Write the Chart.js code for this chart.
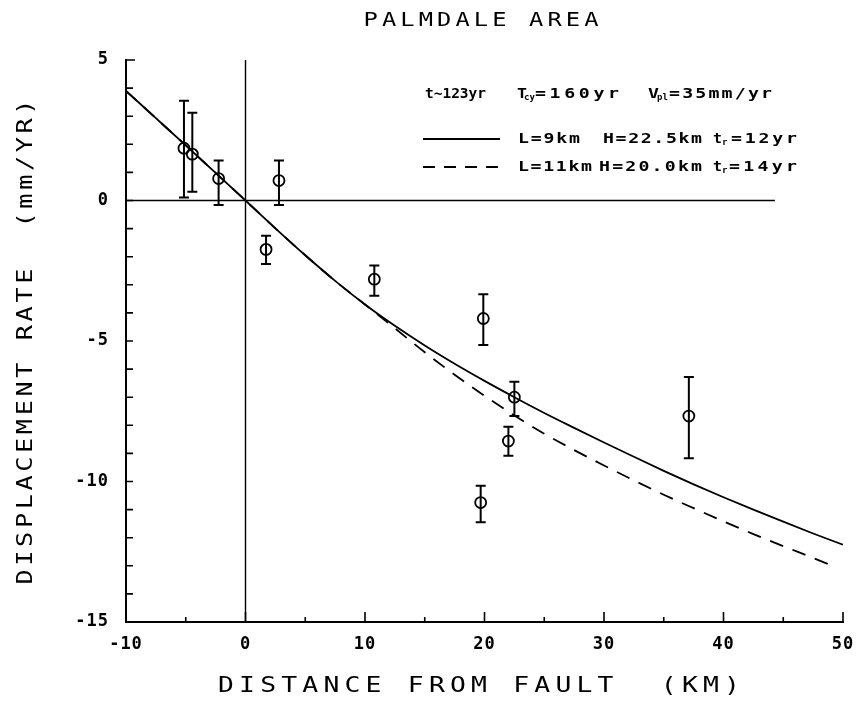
<!DOCTYPE html>
<html>
<head>
<meta charset="utf-8">
<script src="https://cdn.jsdelivr.net/npm/chart.js@4.4.1/dist/chart.umd.min.js"></script>
<style>
  html, body { margin: 0; padding: 0; background: #fff; }
</style>
</head>
<body>
<canvas id="palmdale" width="856" height="708"></canvas>
<script>
// observed displacement rates (mm/yr) vs distance from fault (km)
var obsX    = [-5.15, -4.45, -2.25, 1.72, 2.8, 10.78, 19.9, 22.5, 22.0, 19.68, 37.1];
var obsY    = [1.86, 1.65, 0.78, -1.74, 0.71, -2.8, -4.2, -7.0, -8.56, -10.75, -7.67];
var errLow  = [0.11, 0.31, -0.16, -2.26, -0.16, -3.39, -5.14, -7.67, -9.08, -11.45, -9.17];
var errHigh = [3.55, 3.12, 1.42, -1.25, 1.42, -2.31, -3.34, -6.45, -8.05, -10.15, -6.28];

// model curves
var solidX  = [-10, -7.5, -5, -2.5, 0, 2.5, 5, 7.5, 10, 12.5, 15, 17.5, 20, 22.5, 25, 27.5, 30, 32.5, 35, 37.5, 40, 42.5, 45, 47.5, 50];
var solidY  = [3.9, 2.93, 1.96, 0.98, 0, -0.99, -1.95, -2.86, -3.7, -4.46, -5.16, -5.81, -6.42, -7.0, -7.56, -8.09, -8.61, -9.12, -9.62, -10.1, -10.56, -11.0, -11.43, -11.85, -12.25];
var dashedX = [-10, -7.5, -5, -2.5, 0, 2.5, 5, 7.5, 10, 12.5, 15, 17.5, 20, 22.5, 25, 27.5, 30, 32.5, 35, 37.5, 40, 42.5, 45, 47.5, 49.4];
var dashedY = [3.9, 2.93, 1.96, 0.98, 0, -0.99, -1.95, -2.86, -3.7, -4.55, -5.4, -6.2, -6.95, -7.65, -8.3, -8.88, -9.43, -9.96, -10.47, -10.95, -11.42, -11.87, -12.3, -12.72, -13.05];

// reference lines
var zeroHX = [-10, 44.3];
var zeroVY = [5, -15];

var xTicks = [-10, 0, 10, 20, 30, 40, 50];
var yTicks = [5, 0, -5, -10, -15];

var MONO = '"DejaVu Sans Mono", monospace';

function pts(xs, ys) {
    return xs.map(function (x, i) { return { x: x, y: ys[i] }; });
}

// plotter-like lettering: glyphs widened by sx, spacing chosen so the text spans w
function wideText(ctx, t, x, y, w, font, sx, align) {
    ctx.save();
    ctx.font = font;
    ctx.letterSpacing = '0px';
    var natural = ctx.measureText(t).width;
    var ratio = w / natural;
    if (sx > ratio) sx = Math.max(1, ratio);
    var sp = t.length > 1 ? Math.max(0, (w / sx - natural) / (t.length - 1)) : 0;
    ctx.letterSpacing = sp + 'px';
    ctx.textAlign = 'left';
    var left = align === 'center' ? x - w / 2 : x;
    ctx.translate(left, y);
    ctx.scale(sx, 1);
    ctx.fillText(t, 0, 0);
    ctx.restore();
}

// annotation piece running from x to x2
function fitText(ctx, t, x, x2, y) {
    wideText(ctx, t, x, y, x2 - x, 'bold 14px ' + MONO, 1.3, 'left');
}

function sub(ctx, t, x, y) {
    ctx.save();
    ctx.font = 'bold 9px ' + MONO;
    ctx.letterSpacing = '0px';
    ctx.fillText(t, x, y + 4);
    ctx.restore();
}

var decorations = {
    id: 'decorations',
    beforeDraw: function (chart) {
        chart.ctx.letterSpacing = '1px';
    },
    afterDraw: function (chart) {
        var ctx = chart.ctx;
        var xs = chart.scales.x, ys = chart.scales.y;
        var area = chart.chartArea;
        ctx.save();
        ctx.strokeStyle = '#000';
        ctx.fillStyle = '#000';

        // inward tick marks
        ctx.lineWidth = 1.6;
        ctx.beginPath();
        for (var v = -10; v <= 50; v += 5) {
            var px = xs.getPixelForValue(v);
            var len = (v % 10 === 0) ? 10 : 5;
            ctx.moveTo(px, area.bottom);
            ctx.lineTo(px, area.bottom - len);
        }
        for (var w = -15; w <= 5; w += 1) {
            var py = ys.getPixelForValue(w);
            ctx.moveTo(area.left, py);
            ctx.lineTo(area.left + (w === 5 ? 9 : 7), py);
        }
        ctx.stroke();

        // error bars
        ctx.lineWidth = 2;
        ctx.beginPath();
        obsX.forEach(function (x, i) {
            var cx = xs.getPixelForValue(x);
            var lo = ys.getPixelForValue(errLow[i]);
            var hi = ys.getPixelForValue(errHigh[i]);
            ctx.moveTo(cx, lo); ctx.lineTo(cx, hi);
            ctx.moveTo(cx - 5, lo); ctx.lineTo(cx + 5, lo);
            ctx.moveTo(cx - 5, hi); ctx.lineTo(cx + 5, hi);
        });
        ctx.stroke();

        // parameter annotation
        ctx.textAlign = 'left';
        ctx.textBaseline = 'middle';
        fitText(ctx, 't~123yr', 425, 486, 94);
        fitText(ctx, 'T', 517, 527, 94);
        sub(ctx, 'cy', 524, 94);
        fitText(ctx, '=160yr', 535, 619, 94);
        fitText(ctx, 'V', 648, 659, 94);
        sub(ctx, 'pl', 657, 94);
        fitText(ctx, '=35mm/yr', 669, 772, 94);

        fitText(ctx, 'L=9km', 518, 580, 139);
        fitText(ctx, 'H=22.5km', 603, 702, 139);
        fitText(ctx, 't', 713, 722, 139);
        sub(ctx, 'r', 722, 139);
        fitText(ctx, '=12yr', 731, 797, 139);

        fitText(ctx, 'L=11km', 518, 592, 167);
        fitText(ctx, 'H=20.0km', 599, 702, 167);
        fitText(ctx, 't', 713, 722, 167);
        sub(ctx, 'r', 722, 167);
        fitText(ctx, '=14yr', 729, 797, 167);

        // legend samples
        ctx.lineWidth = 1.8;
        ctx.beginPath();
        ctx.moveTo(423, 139); ctx.lineTo(500, 139);
        ctx.stroke();
        ctx.setLineDash([12, 9]);
        ctx.beginPath();
        ctx.moveTo(423, 167); ctx.lineTo(500, 167);
        ctx.stroke();
        ctx.setLineDash([]);

        // titles
        wideText(ctx, 'PALMDALE AREA', 481, 21, 235, '19px ' + MONO, 1.25, 'center');
        wideText(ctx, 'DISTANCE FROM FAULT  (KM)', 479, 686, 522, '22px ' + MONO, 1.2, 'center');

        ctx.translate(27, 342);
        ctx.rotate(-Math.PI / 2);
        wideText(ctx, 'DISPLACEMENT RATE  (mm/YR)', 0, 0, 485, '21px ' + MONO, 1.2, 'center');
        ctx.restore();
    }
};

new Chart(document.getElementById('palmdale').getContext('2d'), {
    type: 'scatter',
    data: {
        datasets: [
            {
                data: pts(zeroHX, [0, 0]),
                showLine: true, borderColor: '#000', borderWidth: 1.6, pointRadius: 0
            },
            {
                data: pts([0, 0], zeroVY),
                showLine: true, borderColor: '#000', borderWidth: 1.4, pointRadius: 0
            },
            {
                data: pts(solidX, solidY),
                showLine: true, borderColor: '#000', borderWidth: 1.8, pointRadius: 0,
                cubicInterpolationMode: 'monotone'
            },
            {
                data: pts(dashedX, dashedY),
                showLine: true, borderColor: '#000', borderWidth: 1.8, pointRadius: 0,
                borderDash: [14, 10], cubicInterpolationMode: 'monotone'
            },
            {
                data: pts(obsX, obsY),
                showLine: false, pointRadius: 5.5, pointBorderWidth: 1.8,
                pointBorderColor: '#000', pointBackgroundColor: 'rgba(0,0,0,0)'
            }
        ]
    },
    options: {
        responsive: false,
        animation: false,
        devicePixelRatio: 1,
        layout: { padding: { left: 50, right: 13, top: 60, bottom: 26 } },
        plugins: {
            legend: { display: false },
            title: { display: false },
            tooltip: { enabled: false }
        },
        scales: {
            x: {
                type: 'linear', position: 'bottom', min: -10, max: 50,
                afterBuildTicks: function (s) { s.ticks = xTicks.map(function (v) { return { value: v }; }); },
                afterFit: function (s) { s.height = 60; s.paddingLeft = 0; s.paddingRight = 0; },
                grid: { display: false },
                border: { display: true, color: '#000', width: 2 },
                ticks: {
                    color: '#000', padding: 4, maxRotation: 0, autoSkip: false,
                    font: { family: MONO, size: 17, weight: 'bold' }
                }
            },
            y: {
                type: 'linear', position: 'left', min: -15, max: 5,
                afterBuildTicks: function (s) { s.ticks = yTicks.map(function (v) { return { value: v }; }); },
                afterFit: function (s) { s.width = 76; s.paddingTop = 0; s.paddingBottom = 0; },
                grid: { display: false },
                border: { display: true, color: '#000', width: 2 },
                ticks: {
                    color: '#000', padding: 9, autoSkip: false,
                    font: { family: MONO, size: 17, weight: 'bold' }
                }
            }
        }
    },
    plugins: [decorations]
});
</script>
</body>
</html>
